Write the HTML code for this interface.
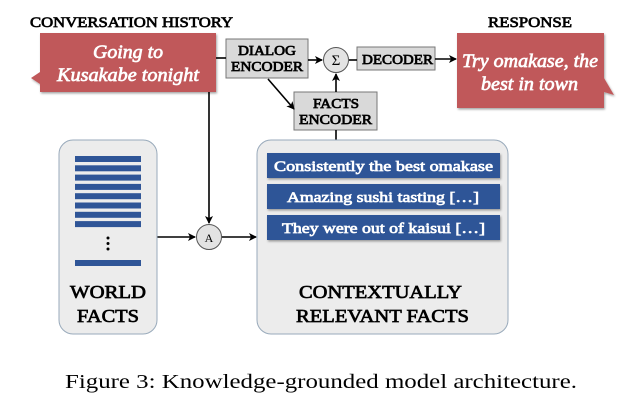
<!DOCTYPE html>
<html><head><style>
html,body{margin:0;padding:0;background:#fff;width:622px;height:402px;overflow:hidden}
svg{display:block}
.b{font-family:"Liberation Serif","Times New Roman",serif;font-weight:400;stroke:#000;stroke-width:0.7}
.w{font-family:"Liberation Serif","Times New Roman",serif;font-weight:400;stroke:#fff;stroke-width:0.7;fill:#fff}
.n{font-family:"Liberation Serif","Times New Roman",serif;font-weight:400}
</style></head><body>
<svg width="622" height="402" viewBox="0 0 622 402">
<defs>
<marker id="ar" markerWidth="8" markerHeight="8" refX="7" refY="4" orient="auto" markerUnits="userSpaceOnUse">
<path d="M0,0 L8,4 L0,8 L2,4 Z" fill="#000"/></marker>
<filter id="sh"><feDropShadow dx="1" dy="1.5" stdDeviation="1" flood-color="#000" flood-opacity="0.35"/></filter>
</defs>
<text class="b" x="30" y="27" font-size="15" textLength="203" lengthAdjust="spacingAndGlyphs">CONVERSATION HISTORY</text>
<text class="b" x="488" y="27" font-size="15" textLength="84" lengthAdjust="spacingAndGlyphs">RESPONSE</text>
<path d="M40,33 H216 V92 H40 V84 L31,78 L40,72 Z" fill="#c0595a" filter="url(#sh)"/>
<text class="w" x="93" y="58" font-size="19" font-style="italic" textLength="70" lengthAdjust="spacingAndGlyphs">Going to</text>
<text class="w" x="57" y="81" font-size="19" font-style="italic" textLength="142" lengthAdjust="spacingAndGlyphs">Kusakabe tonight</text>
<path d="M457,33 H604 V78 L614,95 L604,92 V108 H457 Z" fill="#c0595a" filter="url(#sh)"/>
<text class="w" x="462" y="67" font-size="19" font-style="italic" textLength="136" lengthAdjust="spacingAndGlyphs">Try omakase, the</text>
<text class="w" x="481" y="90" font-size="19" font-style="italic" textLength="97" lengthAdjust="spacingAndGlyphs">best in town</text>
<rect x="226" y="39" width="82" height="39" fill="#d9d9d9" stroke="#777" stroke-width="1"/>
<text class="b" x="238" y="55" font-size="13.5" textLength="58" lengthAdjust="spacingAndGlyphs">DIALOG</text>
<text class="b" x="231" y="71" font-size="13.5" textLength="72" lengthAdjust="spacingAndGlyphs">ENCODER</text>
<rect x="294" y="92" width="83" height="38" fill="#d9d9d9" stroke="#777" stroke-width="1"/>
<text class="b" x="313" y="108" font-size="13.5" textLength="46" lengthAdjust="spacingAndGlyphs">FACTS</text>
<text class="b" x="299" y="124" font-size="13.5" textLength="73" lengthAdjust="spacingAndGlyphs">ENCODER</text>
<rect x="357" y="47" width="78" height="23" fill="#d9d9d9" stroke="#777" stroke-width="1"/>
<text class="b" x="362" y="64" font-size="13.5" textLength="71" lengthAdjust="spacingAndGlyphs">DECODER</text>
<circle cx="336" cy="60" r="12.5" fill="#e3e3e3" stroke="#555"/>
<text class="n" x="336" y="65" font-size="15" text-anchor="middle">Σ</text>
<g stroke="#000" stroke-width="1.6" fill="none">
<line x1="216" y1="58" x2="226" y2="58"/>
<line x1="209" y1="92" x2="209" y2="223" marker-end="url(#ar)"/>
<line x1="308" y1="60" x2="322" y2="60" marker-end="url(#ar)"/>
<line x1="349" y1="60" x2="357" y2="60"/>
<line x1="435" y1="59" x2="456" y2="59" marker-end="url(#ar)"/>
<line x1="268" y1="79" x2="294" y2="109" marker-end="url(#ar)"/>
<line x1="336" y1="92" x2="336" y2="74" marker-end="url(#ar)"/>
<line x1="336" y1="130" x2="336" y2="141"/>
<line x1="157" y1="237" x2="195" y2="237" marker-end="url(#ar)"/>
<line x1="222" y1="237" x2="256" y2="237" marker-end="url(#ar)"/>
</g>
<circle cx="209" cy="237" r="12.5" fill="#e3e3e3" stroke="#555"/>
<text class="n" x="209" y="242" font-size="12" text-anchor="middle">A</text>
<rect x="59" y="140" width="98" height="194" rx="14" fill="#ececec" stroke="#9ab" stroke-width="1"/>
<g fill="#2f5597">
<rect x="75" y="156" width="66" height="6"/><rect x="75" y="165.3" width="66" height="6"/>
<rect x="75" y="174.6" width="66" height="6"/><rect x="75" y="183.9" width="66" height="6"/>
<rect x="75" y="193.2" width="66" height="6"/><rect x="75" y="202.5" width="66" height="6"/>
<rect x="75" y="211.8" width="66" height="6"/><rect x="75" y="221.1" width="66" height="6"/>
<rect x="75" y="260" width="66" height="6"/>
</g>
<g fill="#000"><circle cx="108" cy="238" r="1.5"/><circle cx="108" cy="243.5" r="1.5"/><circle cx="108" cy="249" r="1.5"/>
<circle cx="381" cy="249" r="1.5"/><circle cx="381" cy="254.5" r="1.5"/><circle cx="381" cy="260" r="1.5"/></g>
<text class="b" x="70" y="298" font-size="18" textLength="76" lengthAdjust="spacingAndGlyphs">WORLD</text>
<text class="b" x="77" y="322" font-size="18" textLength="62" lengthAdjust="spacingAndGlyphs">FACTS</text>
<rect x="257" y="140" width="251" height="194" rx="14" fill="#ececec" stroke="#9ab" stroke-width="1"/>
<g fill="#2f5597" filter="url(#sh)">
<rect x="267" y="153" width="233" height="25"/>
<rect x="267" y="184" width="233" height="25"/>
<rect x="267" y="215" width="233" height="25"/>
</g>
<text class="w" x="274" y="171" font-size="15" textLength="219" lengthAdjust="spacingAndGlyphs">Consistently the best omakase</text>
<text class="w" x="287" y="202" font-size="15" textLength="192" lengthAdjust="spacingAndGlyphs">Amazing sushi tasting […]</text>
<text class="w" x="282" y="233" font-size="15" textLength="203" lengthAdjust="spacingAndGlyphs">They were out of kaisui […]</text>
<text class="b" x="299" y="298" font-size="18" textLength="163" lengthAdjust="spacingAndGlyphs">CONTEXTUALLY</text>
<text class="b" x="296" y="322" font-size="18" textLength="173" lengthAdjust="spacingAndGlyphs">RELEVANT FACTS</text>
<text class="n" x="65" y="388" font-size="20" textLength="512" lengthAdjust="spacingAndGlyphs">Figure 3: Knowledge-grounded model architecture.</text>
</svg>
</body></html>
